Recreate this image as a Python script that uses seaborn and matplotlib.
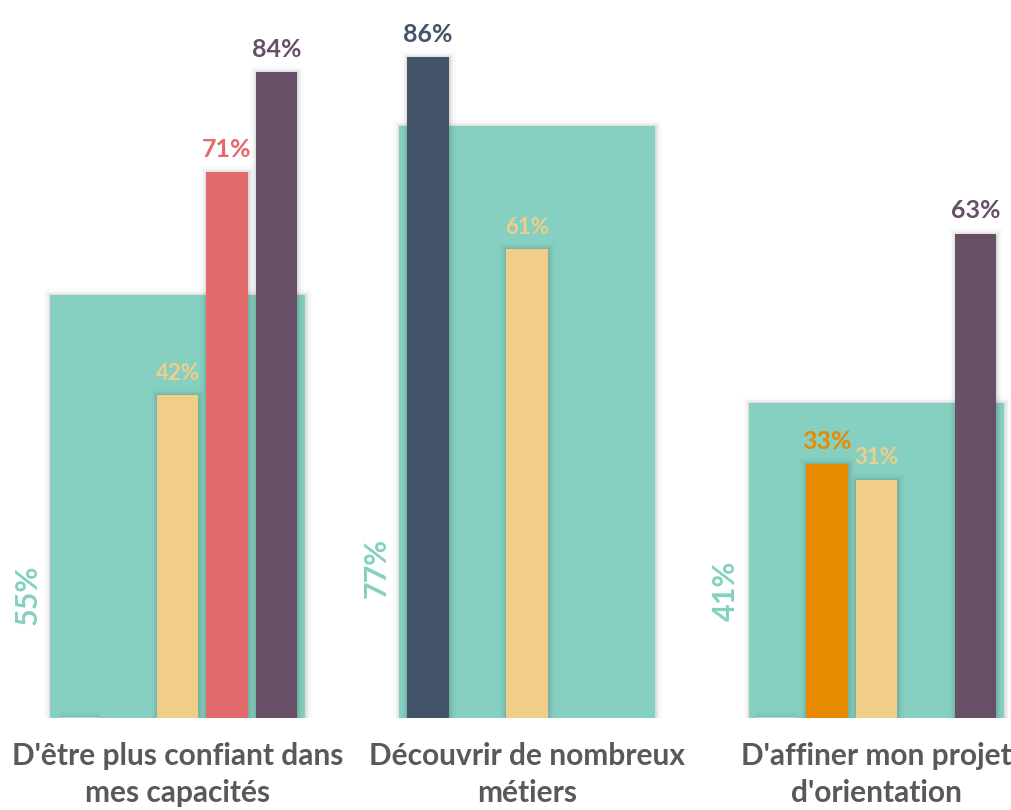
import numpy as np
import pandas as pd
import seaborn as sns
from matplotlib import pyplot as plt
from matplotlib import patheffects as pe

# %% data
categories = ["D'être plus confiant dans\nmes capacités",
              "Découvrir de nombreux\nmétiers",
              "D'affiner mon projet\nd'orientation"]
overall = [55, 77, 41]
series_names = ['S1', 'S2', 'S3', 'S4', 'S5']
s1 = [0, 86, 0]
s2 = [np.nan, np.nan, 33]
s3 = [42, 61, 31]
s4 = [71, np.nan, np.nan]
s5 = [84, np.nan, 63]

colors = ['#435369', '#E88A00', '#F0CD88', '#E06B6A', '#664F67']
teal = '#85D0C0'

dfAll = pd.DataFrame({'Cat': categories, 'Val': overall})
rows = []
for name, vals in zip(series_names, [s1, s2, s3, s4, s5]):
    for c, v in zip(categories, vals):
        rows.append({'Cat': c, 'Serie': name, 'Val': v})
dfSer = pd.DataFrame(rows)

# %% plot
sns.set_style('white')
fig = plt.figure(figsize=(10.11, 8.10), dpi=100)
ax = fig.add_axes([0, 92 / 810, 1, 718 / 810])

# soft halo to mimic the blurred drop shadow
shadow = [pe.Stroke(linewidth=9, foreground='k', alpha=0.02),
          pe.Stroke(linewidth=5, foreground='k', alpha=0.04),
          pe.Stroke(linewidth=2.5, foreground='k', alpha=0.06),
          pe.Normal()]

sns.barplot(data=dfAll, x='Cat', y='Val', color=teal, width=0.73,
            saturation=1, ax=ax, order=categories, linewidth=0)
sns.barplot(data=dfSer, x='Cat', y='Val', hue='Serie', hue_order=series_names,
            palette=colors, width=0.708, gap=0.153, dodge=True,
            saturation=1, ax=ax, order=categories, legend=False, linewidth=0)

for p in ax.patches:
    p.set_path_effects(shadow)
    p.set_linewidth(0)
    if p.get_height() == 0:
        p.set_edgecolor('#a3dccd')
        p.set_linewidth(1.5)

# rotated totals
rot_y = [16, 19.5, 16.5]
for i, v in enumerate(overall):
    ax.text(i - 0.43, rot_y[i], f'{v}%', rotation=90, ha='center', va='center',
            color=teal, fontsize=22, fontweight='bold', family='Lato')

# labels on narrow bars
for cont, name, col in zip(ax.containers[1:], series_names, colors):
    for bar in cont:
        h = bar.get_height()
        if np.isnan(h) or h == 0:
            continue
        fs = 16 if col == '#F0CD88' else 18
        ax.annotate(f'{h:.0f}%', (bar.get_x() + bar.get_width() / 2, h),
                    xytext=(0, 8), textcoords='offset points', ha='center', va='bottom',
                    color=col, fontsize=fs, fontweight='bold', family='Lato')

ax.set_xlim(-177.5 / 349.5, (1011 - 177.5) / 349.5)
ax.set_ylim(0, 718 / 7.69)
ax.set_yticks([])
ax.set_xlabel('')
ax.set_ylabel('')
ax.tick_params(axis='x', length=0, pad=17)
ax.set_xticks(range(len(categories)))
ax.set_xticklabels(categories, fontsize=21.5, fontweight='bold', color='#595959',
                   family='Lato', linespacing=1.4)
sns.despine(ax=ax, left=True, bottom=True)

fig.savefig('out.png', dpi=100)
